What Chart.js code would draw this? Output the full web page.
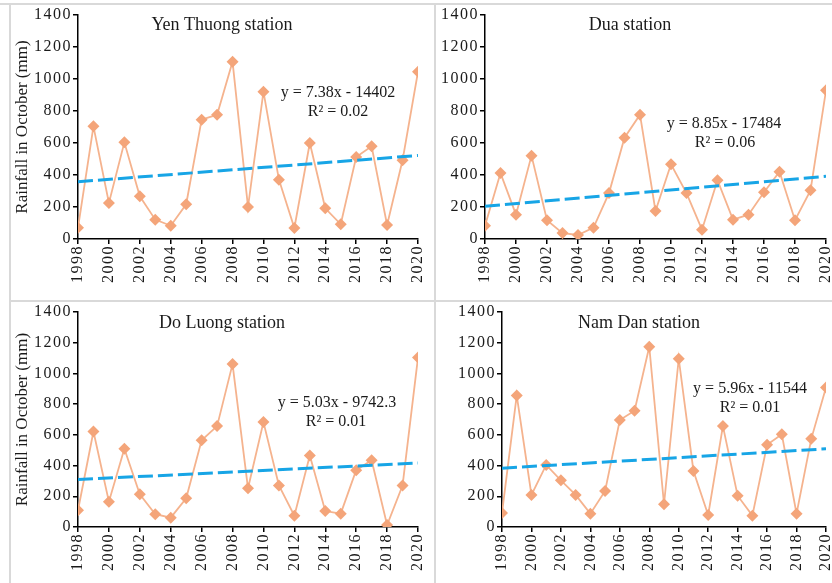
<!DOCTYPE html>
<html>
<head>
<meta charset="utf-8">
<script src="https://cdn.jsdelivr.net/npm/chart.js@4.4.1/dist/chart.umd.min.js"></script>
<style>
  html, body { margin: 0; padding: 0; background: #fff; }
  #wrap { position: relative; width: 832px; height: 583px; overflow: hidden; background: #fff; }
  canvas { position: absolute; left: 0; top: 0; }
  .ln { position: absolute; background: #d9d9d9; }
</style>
</head>
<body>
<div id="wrap">
  <div class="ln" style="left:0;top:3px;width:832px;height:2px"></div>
  <div class="ln" style="left:9px;top:3px;width:2px;height:580px"></div>
  <div class="ln" style="left:434px;top:3px;width:2px;height:580px"></div>
  <div class="ln" style="left:9px;top:300px;width:823px;height:2px"></div>
  <canvas id="c1" width="832" height="583"></canvas>
  <canvas id="c2" width="832" height="583"></canvas>
  <canvas id="c3" width="832" height="583"></canvas>
  <canvas id="c4" width="832" height="583"></canvas>
</div>
<script>
// ---- data ----
const years = [1998,1999,2000,2001,2002,2003,2004,2005,2006,2007,2008,2009,2010,2011,2012,2013,2014,2015,2016,2017,2018,2019,2020];
const yenThuong = [70,704,225,604,267,121,83,217,746,777,1108,200,921,371,69,600,192,92,512,579,88,492,1046];
const dua       = [83,412,152,521,117,37,25,71,287,633,777,175,467,287,58,367,121,152,292,421,117,304,929];
const doLuong   = [109,622,165,509,213,83,61,187,565,657,1061,252,683,270,74,465,104,87,370,435,13,270,1104];
const namDan    = [91,857,209,404,304,209,87,235,696,757,1174,148,1096,365,78,657,204,74,535,604,87,574,909];
// trendline end values (1998, 2020)
const trendYears = [1998, 2020];
const yenThuongTrend = [358, 522];
const duaTrend       = [204, 392];
const doLuongTrend   = [309, 417];
const namDanTrend    = [383, 509];
const stationNames = ['Yen Thuong station','Dua station','Do Luong station','Nam Dan station'];
const equations = [
  ['y = 7.38x - 14402', 'R² = 0.02'],
  ['y = 8.85x - 17484', 'R² = 0.06'],
  ['y = 5.03x - 9742.3', 'R² = 0.01'],
  ['y = 5.96x - 11544', 'R² = 0.01']
];
const yTitle = 'Rainfall in October (mm)';

const FONT = "'Liberation Serif', 'Times New Roman', serif";
const W = 832, H = 583;

function textPlugin(title, titlePos, eq, eqPos) {
  return {
    id: 'texts',
    afterDraw(chart) {
      const ctx = chart.ctx;
      ctx.save();
      ctx.fillStyle = '#1a1a1a';
      ctx.textAlign = 'center';
      ctx.textBaseline = 'middle';
      ctx.font = '18px ' + FONT;
      ctx.fillText(title, titlePos[0], titlePos[1]);
      ctx.font = '16px ' + FONT;
      ctx.fillText(eq[0], eqPos[0][0], eqPos[0][1]);
      ctx.fillText(eq[1], eqPos[1][0], eqPos[1][1]);
      ctx.restore();
    }
  };
}

// widen tick label spacing (reference digits are set wide)
function spacedLabels(s) {
  if (s._spaced) return;
  s._spaced = true;
  const orig = s.drawLabels;
  s.drawLabels = function (area) {
    const ctx = this.ctx;
    ctx.save();
    ctx.letterSpacing = '1.5px';
    orig.call(this, area);
    ctx.restore();
  };
}

function makeChart(id, values, trend, area, showTitle, title, titlePos, eq, eqPos) {
  const yW = showTitle ? 78 : 58;
  const xH = 50;
  const pad = {
    left: area.left - yW,
    right: W - area.right,
    top: area.top,
    bottom: H - area.bottom - xH
  };
  const tickFont = { family: FONT, size: 16 };
  new Chart(document.getElementById(id), {
    type: 'line',
    data: {
      datasets: [
        {
          data: trendYears.map((x, i) => ({ x: x, y: trend[i] })),
          borderColor: '#17A5E6',
          borderWidth: 3,
          borderDash: [15, 5],
          pointRadius: 0,
          fill: false
        },
        {
          data: years.map((x, i) => ({ x: x, y: values[i] })),
          borderColor: '#F5B38E',
          borderWidth: 1.8,
          pointStyle: 'rectRot',
          pointRadius: 6,
          pointBackgroundColor: '#F4A57A',
          pointBorderColor: '#F4A57A',
          pointBorderWidth: 0,
          tension: 0,
          fill: false
        }
      ]
    },
    options: {
      responsive: false,
      animation: false,
      events: [],
      layout: { padding: pad },
      plugins: { legend: { display: false }, tooltip: { enabled: false }, title: { display: false } },
      scales: {
        x: {
          type: 'linear',
          min: 1998, max: 2020,
          border: { color: '#000', width: 1.5 },
          grid: { drawOnChartArea: false, drawTicks: true, tickLength: 5, color: '#000', lineWidth: 1.5 },
          ticks: {
            stepSize: 2, autoSkip: false, maxRotation: 90, minRotation: 90,
            color: '#1a1a1a', font: tickFont, padding: 1,
            callback: v => String(v)
          },
          afterFit(s) { s.height = xH; s.paddingLeft = 0; s.paddingRight = 0; spacedLabels(s); }
        },
        y: {
          min: 0, max: 1400,
          border: { color: '#000', width: 1.5 },
          grid: { drawOnChartArea: false, drawTicks: true, tickLength: 5, color: '#000', lineWidth: 1.5 },
          ticks: { stepSize: 200, color: '#1a1a1a', font: tickFont, padding: 1, callback: v => String(v) },
          title: {
            display: showTitle, text: yTitle, color: '#1a1a1a',
            font: { family: FONT, size: 17 }, padding: { top: 12, bottom: 0 }
          },
          afterFit(s) { s.width = yW; s.paddingTop = 0; s.paddingBottom = 0; spacedLabels(s); }
        }
      }
    },
    plugins: [textPlugin(title, titlePos, eq, eqPos)]
  });
}

makeChart('c1', yenThuong, yenThuongTrend, { left: 78, right: 418, top: 15, bottom: 239 }, true,
  stationNames[0], [222, 25], equations[0], [[338, 93], [338, 112]]);
makeChart('c2', dua, duaTrend, { left: 485, right: 826, top: 15, bottom: 239 }, false,
  stationNames[1], [630, 25], equations[1], [[724, 124], [725, 143]]);
makeChart('c3', doLuong, doLuongTrend, { left: 78, right: 418, top: 312, bottom: 527 }, true,
  stationNames[2], [222, 323], equations[2], [[337, 403], [336, 422]]);
makeChart('c4', namDan, namDanTrend, { left: 502, right: 826, top: 312, bottom: 527 }, false,
  stationNames[3], [639, 323], equations[3], [[750, 389], [750, 408]]);
</script>
</body>
</html>
